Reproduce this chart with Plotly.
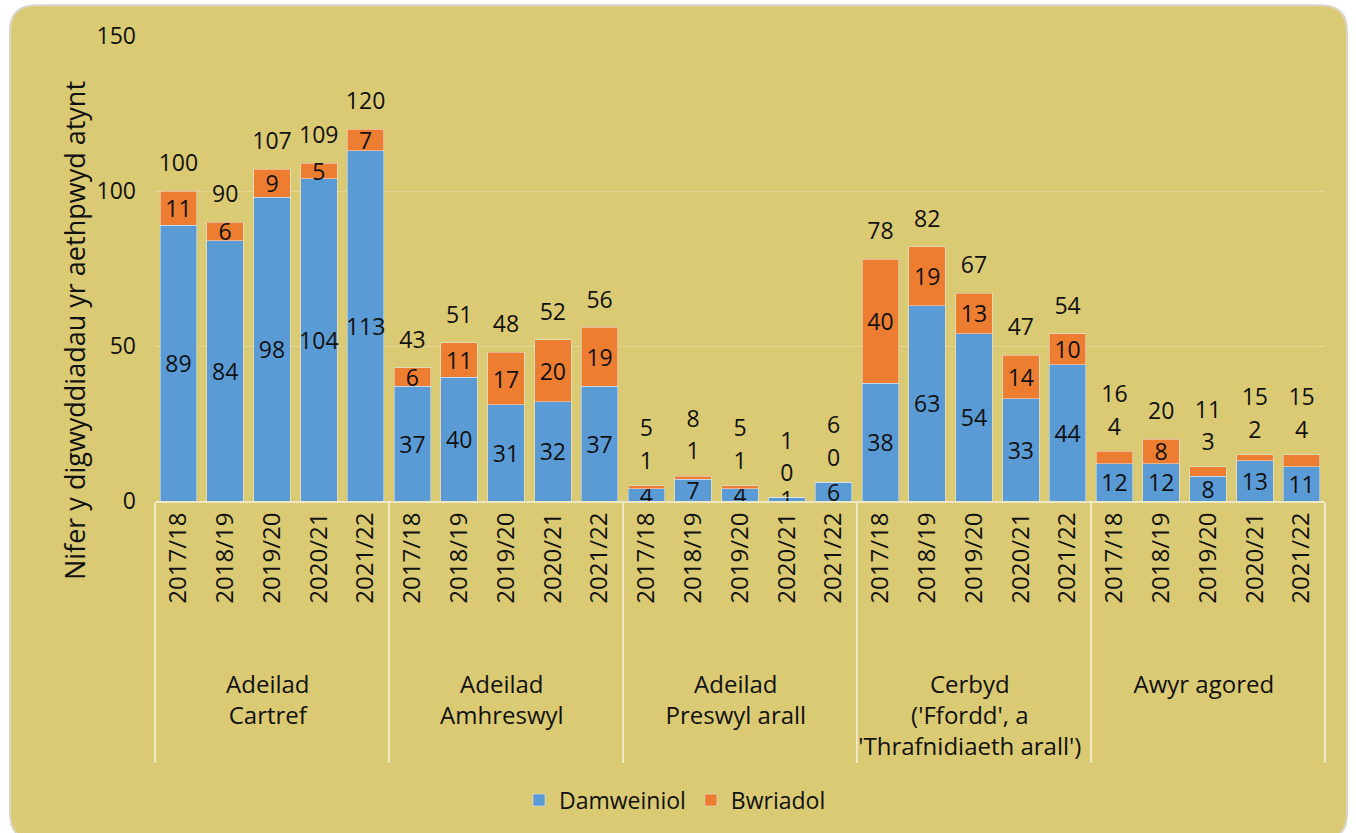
import plotly.graph_objects as go

# data
groups = ["Adeilad<br>Cartref", "Adeilad<br>Amhreswyl", "Adeilad<br>Preswyl arall",
          "Cerbyd<br>('Ffordd', a<br>'Thrafnidiaeth arall')", "Awyr agored"]
years = ["2017/18", "2018/19", "2019/20", "2020/21", "2021/22"]

damweiniol = [89, 84, 98, 104, 113,
              37, 40, 31, 32, 37,
              4, 7, 4, 1, 6,
              38, 63, 54, 33, 44,
              12, 12, 8, 13, 11]
bwriadol = [11, 6, 9, 5, 7,
            6, 11, 17, 20, 19,
            1, 1, 1, 0, 0,
            40, 19, 13, 14, 10,
            4, 8, 3, 2, 4]
totals = [100, 90, 107, 109, 120,
          43, 51, 48, 52, 56,
          5, 8, 5, 1, 6,
          78, 82, 67, 47, 54,
          16, 20, 11, 15, 15]

# pad the rotated year labels so the group names sit lower, as in the original
pad = "\u00a0" * 7
x_outer = [g for g in groups for _ in years]
x_inner = [pad + y for y in years] * len(groups)
x = [x_outer, x_inner]

BLUE = "#5B9BD5"
ORANGE = "#ED7D31"
BG = "#DBCA74"
FONT = "Open Sans"
TXT = "#111111"
FS = 23

W, H = 1356, 833
L, R, T, B = 155, 31, 36, 329
pw, ph = W - L - R, H - T - B


def px2paper(px, py):
    return (px - L) / pw, (H - B - py) / ph


# small orange segments get their label above the bar, like the original
small = [i for i, v in enumerate(bwriadol) if v < 5]
orange_text = ["" if i in small else str(v) for i, v in enumerate(bwriadol)]
total_marker = [68 if i in small else 21 for i in range(len(totals))]

fig = go.Figure()
fig.add_trace(go.Bar(
    x=x, y=damweiniol, name="Damweiniol", marker_color=BLUE,
    text=damweiniol, textposition="inside", insidetextanchor="middle",
    textangle=0, constraintext="none",
    textfont=dict(family=FONT, size=FS, color=TXT), hoverinfo="skip"))
fig.add_trace(go.Bar(
    x=x, y=bwriadol, name="Bwriadol", marker_color=ORANGE,
    text=orange_text, textposition="inside", insidetextanchor="middle",
    textangle=0, constraintext="none",
    textfont=dict(family=FONT, size=FS, color=TXT), hoverinfo="skip"))
fig.add_trace(go.Scatter(
    x=[[x_outer[i] for i in small], [x_inner[i] for i in small]],
    y=[totals[i] for i in small], text=[bwriadol[i] for i in small],
    mode="markers+text", textposition="top center",
    marker=dict(size=16, color="rgba(0,0,0,0)", line=dict(width=0)),
    textfont=dict(family=FONT, size=FS, color=TXT),
    showlegend=False, hoverinfo="skip", cliponaxis=False))
fig.add_trace(go.Scatter(
    x=x, y=totals, mode="markers+text", text=totals, textposition="top center",
    marker=dict(size=total_marker, color="rgba(0,0,0,0)", line=dict(width=0)),
    textfont=dict(family=FONT, size=FS, color=TXT),
    showlegend=False, hoverinfo="skip", cliponaxis=False))

# rounded card behind everything
x0, y0 = px2paper(10, 5)
x1, y1 = px2paper(1347, 845)
rx, ry = 26 / pw, 26 / ph
card = (f"M {x0 + rx},{y0} L {x1 - rx},{y0} Q {x1},{y0} {x1},{y0 - ry} "
        f"L {x1},{y1 + ry} Q {x1},{y1} {x1 - rx},{y1} L {x0 + rx},{y1} "
        f"Q {x0},{y1} {x0},{y1 + ry} L {x0},{y0 - ry} Q {x0},{y0} {x0 + rx},{y0} Z")
fig.add_shape(type="path", path=card, xref="paper", yref="paper",
              fillcolor=BG, line=dict(color="#D9D6CC", width=2), layer="below")

tx, ty = px2paper(74, 333)
fig.add_annotation(text="Nifer y digwyddiadau yr aethpwyd atynt", x=tx, y=ty,
                   xref="paper", yref="paper", textangle=-90, showarrow=False,
                   xanchor="center", yanchor="middle",
                   font=dict(family=FONT, size=27, color=TXT))

lx, ly = px2paper(519, 805)
fig.update_layout(
    width=W, height=H,
    margin=dict(l=L, r=R, t=T, b=B),
    barmode="stack", bargap=0.22,
    paper_bgcolor="white", plot_bgcolor="rgba(0,0,0,0)",
    font=dict(family=FONT, size=FS, color=TXT),
    legend=dict(orientation="h", x=lx, y=ly, xanchor="left", yanchor="middle",
                bgcolor="rgba(0,0,0,0)", font=dict(size=FS), itemwidth=30,
                traceorder="normal"),
    xaxis=dict(type="multicategory", tickangle=-90, showline=True,
               range=[-0.5, len(x_inner) - 0.5], autorange=False,
               linecolor="#EFE8C6", linewidth=2, dividercolor="#EFE8C6",
               dividerwidth=2, showgrid=False,
               tickfont=dict(family=FONT, size=24, color=TXT)),
    yaxis=dict(range=[0, 150], dtick=50, showline=False, zeroline=False,
               gridcolor="rgba(255,255,255,0.22)", gridwidth=1,
               ticklabelstandoff=18,
               tickfont=dict(family=FONT, size=FS, color=TXT)),
)

fig.write_html("out.html", config={"displayModeBar": False},
               post_script="document.body.style.margin='0';")
